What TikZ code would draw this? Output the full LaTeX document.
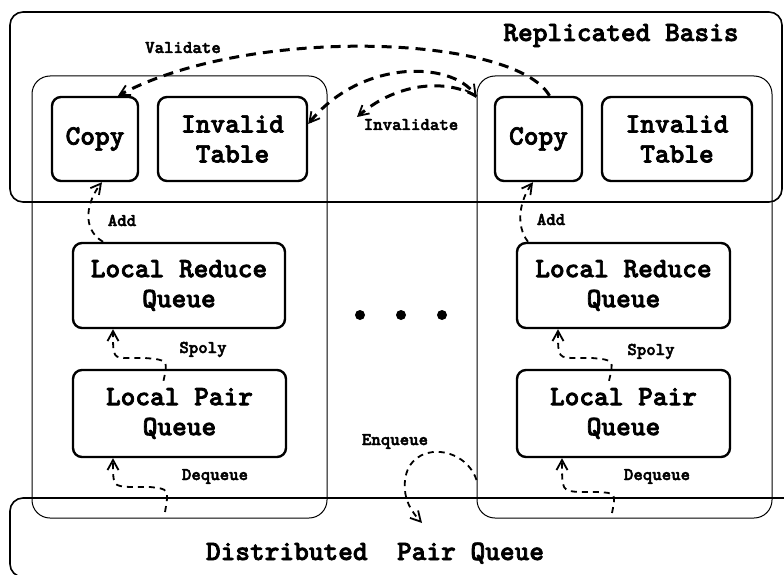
\documentclass[tikz,border=0pt]{standalone}
\usepackage{fontspec}
\usetikzlibrary{arrows.meta}
\newfontfamily\courb[FakeBold=2.5]{lmmonolt10-bold.otf}
\newcommand\bigf{\fontsize{28}{30}\selectfont\courb}
\newcommand\smallf{\fontsize{18}{20}\selectfont\courb}
\begin{document}
\begin{tikzpicture}[x=1pt,y=-1pt,
  box/.style={draw,rounded corners=9pt,line width=2.4pt,inner sep=0pt,align=center,font=\bigf},
  frame/.style={draw,rounded corners=18pt,line width=1pt,inner sep=0pt},
  outer/.style={draw,rounded corners=13pt,line width=1.6pt,inner sep=0pt},
  lbl/.style={font=\smallf,anchor=base,inner sep=0pt},
  title/.style={font=\bigf,anchor=base,inner sep=0pt},
  bigdash/.style={line width=3pt,dash pattern=on 10pt off 7pt},
  smalldash/.style={line width=1.8pt,dash pattern=on 6pt off 5pt},
  tip/.style={-{Straight Barb[length=10pt,width=11pt,line width=1.8pt]}},
  twotip/.style={{Straight Barb[length=10pt,width=11pt,line width=1.8pt]}-{Straight Barb[length=10pt,width=11pt,line width=1.8pt]}},
  dot/.style={circle,fill,inner sep=0pt,minimum size=10pt}]
\useasboundingbox (0,0) rectangle (784,575);
\clip (0,0) rectangle (784,575);
% outer regions
\node[outer,minimum width=772pt,minimum height=190pt] (rb) at (396,107) {};
\node[outer,minimum width=790pt,minimum height=79pt] (dpq) at (405,537.5) {};
\node[title] (rbt) at (621,41) {Replicated Basis};
\node[title] (dpqt) at (375,560) {Distributed\ \ Pair Queue};
% processor frames
\node[frame,minimum width=295pt,minimum height=442pt] (procA) at (179.5,297) {};
\node[frame,minimum width=295pt,minimum height=442pt] (procB) at (624.5,297) {};
% inner boxes
\node[box,minimum width=86pt,minimum height=84pt] (copyA) at (95,139) {Copy};
\node[box,minimum width=149pt,minimum height=84pt] (invA) at (232.5,139) {Invalid\\Table};
\node[box,minimum width=87pt,minimum height=84pt] (copyB) at (538.5,139) {Copy};
\node[box,minimum width=150pt,minimum height=84pt] (invB) at (677,139) {Invalid\\Table};
\node[box,minimum width=212pt,minimum height=85pt] (lrqA) at (179,285.5) {Local Reduce\\Queue};
\node[box,minimum width=213pt,minimum height=87pt] (lpqA) at (179.5,413.5) {Local Pair\\Queue};
\node[box,minimum width=213pt,minimum height=85pt] (lrqB) at (623.5,285.5) {Local Reduce\\Queue};
\node[box,minimum width=213pt,minimum height=87pt] (lpqB) at (623.5,413.5) {Local Pair\\Queue};
% dots
\node[dot] (d1) at (360,315) {};
\node[dot] (d2) at (401,315) {};
\node[dot] (d3) at (442,315) {};
% labels
\node[lbl] (lv) at (183,53) {Validate};
\node[lbl] (li) at (411,130) {Invalidate};
\node[lbl] (laA) at (122,226) {Add};
\node[lbl] (laB) at (551,225) {Add};
\node[lbl] (lsA) at (203,353) {Spoly};
\node[lbl] (lsB) at (651,355) {Spoly};
\node[lbl] (ldA) at (215,480) {Dequeue};
\node[lbl] (ldB) at (657,480) {Dequeue};
\node[lbl] (le) at (395,445) {Enqueue};
% free ends
\coordinate (invT) at (357,117);
\coordinate (dqA) at (165,512);
\coordinate (dqB) at (612,513);
\coordinate (enqT) at (422,523);
% big connectors
\draw[bigdash,tip] ([xshift=11pt]copyB.north) .. controls (515,35) and (250,25) .. ([xshift=23pt]copyA.north);
\draw[bigdash,twotip] ([yshift=15pt]invA.east) .. controls (360,60) and (450,60) .. ([yshift=-21pt]procB.north west);
\draw[bigdash,tip] ([yshift=-21pt]procB.north west) .. controls (450,80) and (400,80) .. (invT);
% small connectors
\draw[smalldash,tip] ([xshift=-76pt]lrqA.north) .. controls (80,228) and (88,200) .. ([xshift=7pt]copyA.south);
\draw[smalldash,tip] ([xshift=-95.5pt]lrqB.north) .. controls (515,225) and (520,200) .. ([xshift=-5.5pt]copyB.south);
\draw[smalldash,tip] ([xshift=-16pt,yshift=-12pt]lpqA.north) .. controls (168,360) .. (145,358) -- (130,358) .. controls (113,358) .. ([xshift=-66pt]lrqA.south);
\draw[smalldash,tip] ([xshift=-14.5pt,yshift=-12pt]lpqB.north) .. controls (614,360) .. (592,358) -- (578,358) .. controls (558,358) .. ([xshift=-65.5pt]lrqB.south);
\draw[smalldash,tip] (dqA) .. controls (169,489) .. (150,487) -- (130,487) .. controls (113,486) .. ([xshift=-66.5pt]lpqA.south);
\draw[smalldash,tip] (dqB) .. controls (616,493) .. (597,492) -- (580,492) .. controls (562,491) .. ([xshift=-61.5pt]lpqB.south);
\draw[smalldash,tip] ([yshift=-183pt]procB.west) .. controls (465,445) and (410,440) .. (405,480) .. controls (403,500) and (412,512) .. (enqT);
\end{tikzpicture}
\end{document}
